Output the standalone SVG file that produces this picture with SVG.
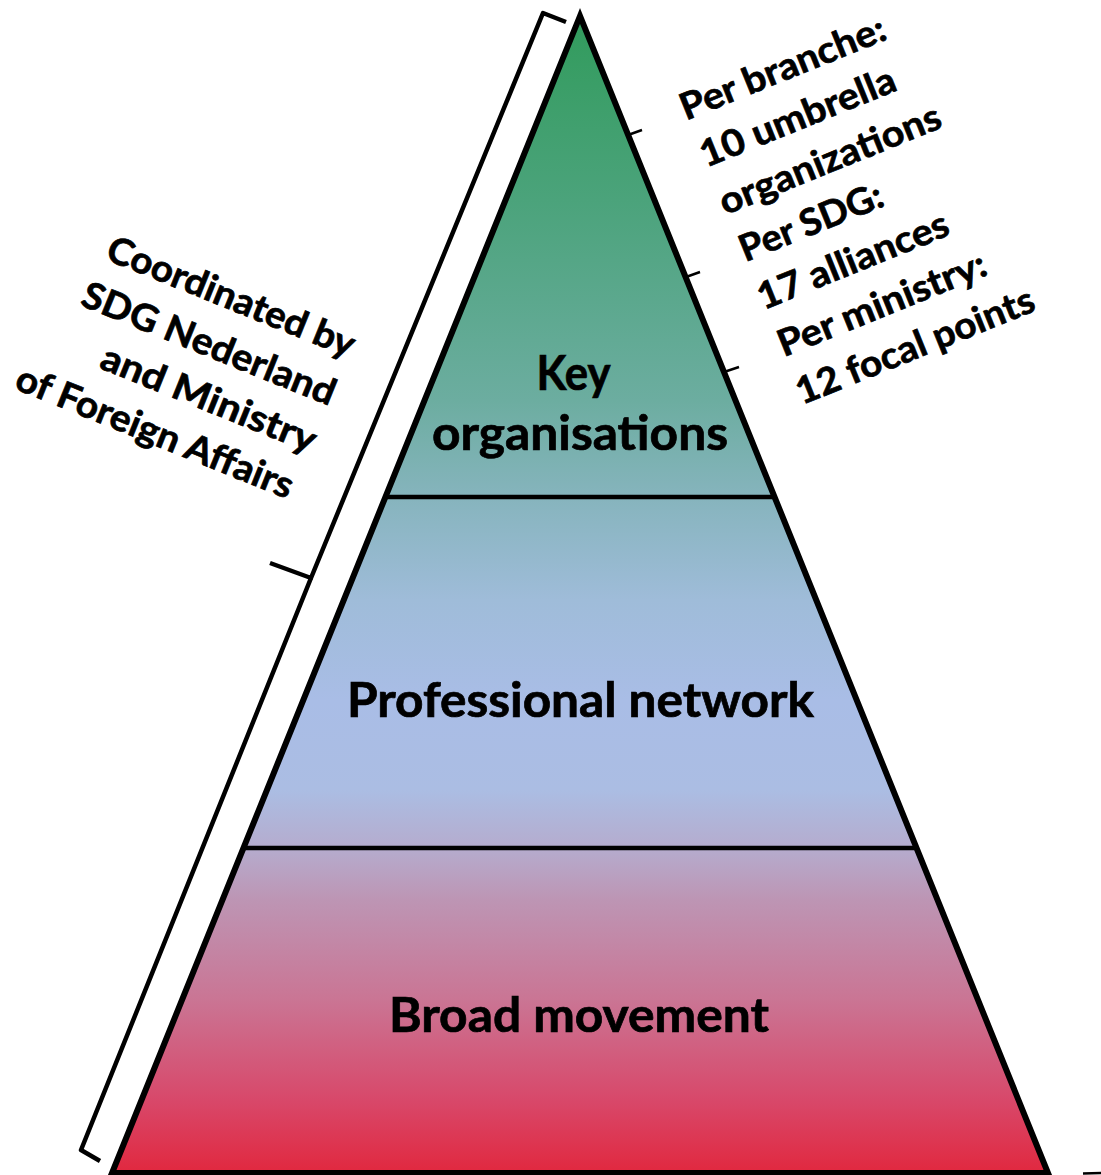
<svg xmlns="http://www.w3.org/2000/svg" width="1101" height="1175" viewBox="0 0 1101 1175">
<defs>
<linearGradient id="pyrGrad" gradientUnits="userSpaceOnUse" x1="0" y1="16" x2="0" y2="1173">
<stop offset="0" stop-color="#319b5c"/>
<stop offset="0.159" stop-color="#4ba37b"/>
<stop offset="0.332" stop-color="#6cada0"/>
<stop offset="0.416" stop-color="#86b4bd"/>
<stop offset="0.505" stop-color="#9fbcd9"/>
<stop offset="0.591" stop-color="#a9bde6"/>
<stop offset="0.669" stop-color="#abbde3"/>
<stop offset="0.719" stop-color="#b5acce"/>
<stop offset="0.764" stop-color="#bd95b4"/>
<stop offset="0.850" stop-color="#ca7594"/>
<stop offset="0.937" stop-color="#d8486a"/>
<stop offset="1" stop-color="#e1283f"/>
</linearGradient>
</defs>
<style>
.lbl{font-family:Lato,"Open Sans","Liberation Sans",sans-serif;font-weight:700;fill:#000;stroke:#000;stroke-width:0.7}
.main{font-size:47px;text-anchor:middle}
.side{font-size:37px}
.ln{stroke:#000;fill:none;stroke-linecap:butt}
</style>
<rect width="1101" height="1175" fill="#ffffff"/>
<g id="pyramid">
<polygon points="580,16 112,1173 1048,1173" fill="url(#pyrGrad)" stroke="#000" stroke-width="6" stroke-linejoin="miter"/>
</g>
<g id="connectors">
<line class="ln" x1="385" y1="497" x2="775" y2="497" stroke-width="4.5"/>
<line class="ln" x1="243" y1="848" x2="917" y2="848" stroke-width="4.5"/>
<polyline class="ln" points="566,22 543,13 311,578 270,563" stroke-width="4.5" stroke-linejoin="round"/>
<polyline class="ln" points="311,578 81,1150 100,1161" stroke-width="4.5" stroke-linejoin="round"/>
<line class="ln" x1="628" y1="135" x2="642" y2="130" stroke-width="2.5"/>
<line class="ln" x1="686" y1="277" x2="700" y2="272" stroke-width="2.5"/>
<line class="ln" x1="724" y1="372" x2="739" y2="367" stroke-width="2.5"/>
<line class="ln" x1="1083" y1="1173.5" x2="1101" y2="1173" stroke-width="2.5"/>
</g>
<g id="node-key">
<text class="lbl main" x="573.5" y="390" textLength="74" lengthAdjust="spacingAndGlyphs">Key</text>
<text class="lbl main" x="580" y="450" textLength="296" lengthAdjust="spacingAndGlyphs">organisations</text>
</g>
<g id="node-professional">
<text class="lbl main" x="580.5" y="717" textLength="467" lengthAdjust="spacingAndGlyphs">Professional network</text>
</g>
<g id="node-broad">
<text class="lbl main" x="579" y="1032" textLength="380" lengthAdjust="spacingAndGlyphs">Broad movement</text>
</g>
<g id="label-right" transform="translate(685,121) rotate(-22)">
<text class="lbl side" x="1" y="0" textLength="219" lengthAdjust="spacingAndGlyphs">Per branche:</text>
<text class="lbl side" x="2" y="51.2" textLength="208" lengthAdjust="spacingAndGlyphs">10 umbrella</text>
<text class="lbl side" x="2" y="102.4" textLength="236" lengthAdjust="spacingAndGlyphs">organizations</text>
<text class="lbl side" x="3" y="153.6" textLength="152" lengthAdjust="spacingAndGlyphs">Per SDG:</text>
<text class="lbl side" x="2" y="204.8" textLength="203" lengthAdjust="spacingAndGlyphs">17 alliances</text>
<text class="lbl side" x="3" y="256" textLength="222" lengthAdjust="spacingAndGlyphs">Per ministry:</text>
<text class="lbl side" x="2" y="307.2" textLength="254" lengthAdjust="spacingAndGlyphs">12 focal points</text>
</g>
<g id="label-left" transform="translate(350,355) rotate(22)">
<text class="lbl side" x="0" y="3" text-anchor="end" textLength="264" lengthAdjust="spacingAndGlyphs">Coordinated by</text>
<text class="lbl side" x="0" y="55" text-anchor="end" textLength="270" lengthAdjust="spacingAndGlyphs">SDG Nederland</text>
<text class="lbl side" x="0" y="106" text-anchor="end" textLength="229" lengthAdjust="spacingAndGlyphs">and Ministry</text>
<text class="lbl side" x="-4" y="157" text-anchor="end" textLength="296" lengthAdjust="spacingAndGlyphs">of Foreign Affairs</text>
</g>
</svg>
